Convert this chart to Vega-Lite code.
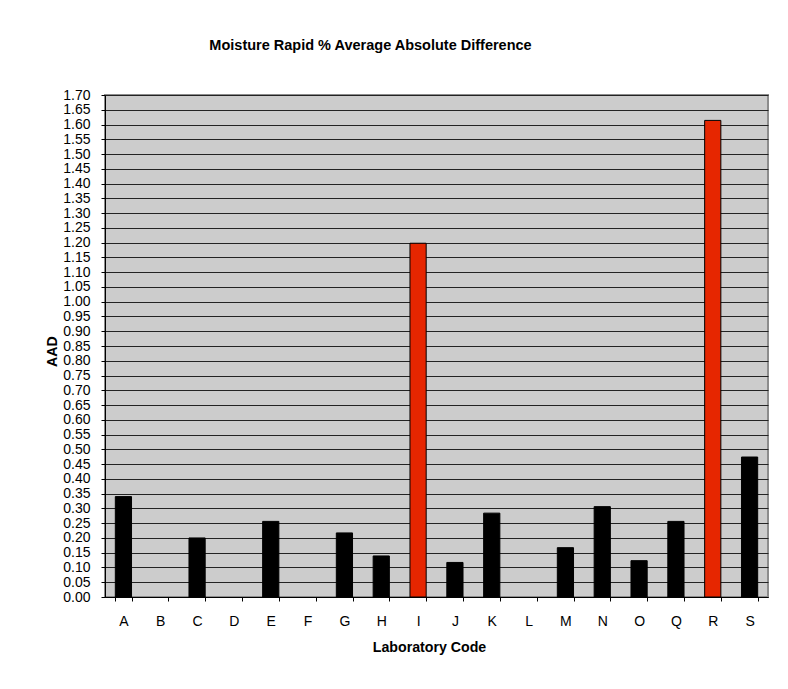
{
  "$schema": "https://vega.github.io/schema/vega-lite/v6.json",
  "width": 663,
  "height": 502,
  "autosize": {"type": "none"},
  "padding": {"left": 105, "top": 95, "right": 20, "bottom": 92},
  "background": "white",
  "title": {
    "text": "Moisture Rapid % Average Absolute Difference",
    "font": "Liberation Sans",
    "fontSize": 14.5,
    "fontWeight": "bold",
    "color": "black",
    "anchor": "middle",
    "dx": -66,
    "offset": 35
  },
  "config": {
    "view": {"fill": "#CCCCCC", "stroke": "#8C8C8C", "strokeWidth": 2},
    "font": "Liberation Sans"
  },
  "data": {
    "values": [
      {"lab": "A", "aad": 0.34, "flag": "normal"},
      {"lab": "B", "aad": null, "flag": "normal"},
      {"lab": "C", "aad": 0.20, "flag": "normal"},
      {"lab": "D", "aad": null, "flag": "normal"},
      {"lab": "E", "aad": 0.256, "flag": "normal"},
      {"lab": "F", "aad": null, "flag": "normal"},
      {"lab": "G", "aad": 0.217, "flag": "normal"},
      {"lab": "H", "aad": 0.139, "flag": "normal"},
      {"lab": "I", "aad": 1.198, "flag": "high"},
      {"lab": "J", "aad": 0.117, "flag": "normal"},
      {"lab": "K", "aad": 0.284, "flag": "normal"},
      {"lab": "L", "aad": null, "flag": "normal"},
      {"lab": "M", "aad": 0.167, "flag": "normal"},
      {"lab": "N", "aad": 0.306, "flag": "normal"},
      {"lab": "O", "aad": 0.123, "flag": "normal"},
      {"lab": "Q", "aad": 0.256, "flag": "normal"},
      {"lab": "R", "aad": 1.614, "flag": "high"},
      {"lab": "S", "aad": 0.474, "flag": "normal"}
    ]
  },
  "mark": {"type": "bar", "stroke": "black", "strokeWidth": 1},
  "encoding": {
    "x": {
      "field": "lab",
      "type": "nominal",
      "sort": null,
      "scale": {
        "domain": ["A", "B", "C", "D", "E", "F", "G", "H", "I", "J", "K", "L", "M", "N", "O", "Q", "R", "S"],
        "paddingInner": 0.56,
        "paddingOuter": 0.28
      },
      "axis": {
        "title": "Laboratory Code",
        "titleFont": "Liberation Sans",
        "titleFontSize": 14.2,
        "titleFontWeight": "bold",
        "titleColor": "black",
        "titleX": 324,
        "titleY": 50,
        "titleAnchor": "middle",
        "titleAlign": "center",
        "titleBaseline": "middle",
        "labelAngle": 0,
        "labelFont": "Liberation Sans",
        "labelFontSize": 14,
        "labelColor": "black",
        "labelPadding": 13,
        "tickBand": "extent",
        "tickSize": 4,
        "tickColor": "black",
        "domainColor": "black",
        "grid": false
      }
    },
    "y": {
      "field": "aad",
      "type": "quantitative",
      "scale": {"domain": [0, 1.7], "nice": false},
      "axis": {
        "title": "AAD",
        "titleFont": "Liberation Sans",
        "titleFontSize": 14.2,
        "titleFontWeight": "bold",
        "titleColor": "black",
        "titleAngle": 270,
        "titleX": -53,
        "titleY": 256,
        "titleAlign": "center",
        "titleBaseline": "middle",
        "values": [0, 0.05, 0.1, 0.15, 0.2, 0.25, 0.3, 0.35, 0.4, 0.45, 0.5, 0.55, 0.6, 0.65, 0.7, 0.75, 0.8, 0.85, 0.9, 0.95, 1.0, 1.05, 1.1, 1.15, 1.2, 1.25, 1.3, 1.35, 1.4, 1.45, 1.5, 1.55, 1.6, 1.65, 1.7],
        "format": ".2f",
        "labelFont": "Liberation Sans",
        "labelFontSize": 14,
        "labelColor": "black",
        "labelPadding": 11,
        "labelOverlap": false,
        "tickSize": 4,
        "tickColor": "black",
        "domainColor": "black",
        "grid": true,
        "gridColor": "#222222",
        "gridWidth": 1,
        "gridOpacity": 1
      }
    },
    "color": {
      "field": "flag",
      "type": "nominal",
      "scale": {"domain": ["normal", "high"], "range": ["#000000", "#E62600"]},
      "legend": null
    }
  }
}
